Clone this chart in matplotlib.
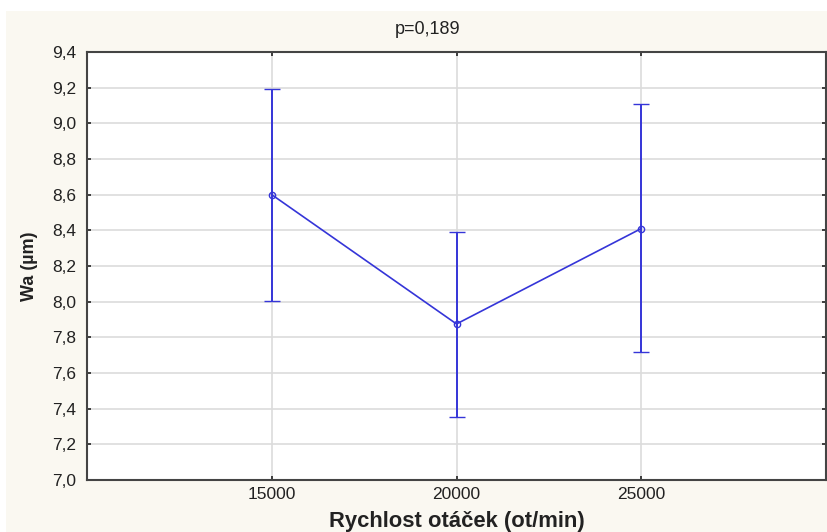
"""
Mean Wa with error bars vs spindle speed.
"""

import matplotlib.pyplot as plt
from matplotlib.patches import Rectangle
from matplotlib.ticker import FuncFormatter

FIG_PATH = "out.png"

speeds = [15000, 20000, 25000]
wa_mean = [8.60, 7.875, 8.41]
wa_low = [8.005, 7.355, 7.715]
wa_high = [9.19, 8.39, 9.11]

LINE_COLOR = "#3535d8"
BG_COLOR = "#faf8f1"


def main() -> None:
    plt.rcParams["font.family"] = ["Liberation Sans", "DejaVu Sans"]

    fig = plt.figure(figsize=(8.27, 5.32), dpi=100)
    fig.patch.set_facecolor("white")
    fig.patches.append(Rectangle((6 / 827, 0), 1, 1 - 11 / 532, transform=fig.transFigure,
                                 facecolor=BG_COLOR, edgecolor="none", zorder=-10))

    ax = fig.add_axes([87 / 827, 52 / 532, (826 - 87) / 827, (480 - 52) / 532])
    ax.set_facecolor("white")

    err_lo = [m - lo for m, lo in zip(wa_mean, wa_low)]
    err_hi = [hi - m for m, hi in zip(wa_mean, wa_high)]
    ax.errorbar(speeds, wa_mean, yerr=[err_lo, err_hi], color=LINE_COLOR, lw=1.2,
                elinewidth=1.4, capsize=6, capthick=1.4, marker="o", markersize=4.5,
                markerfacecolor="none", markeredgecolor=LINE_COLOR, markeredgewidth=1.0,
                zorder=3)

    ax.set_xlim(10000, 30000)
    ax.set_ylim(7.0, 9.4)
    ax.set_xticks(speeds)
    ax.set_yticks([7.0 + 0.2 * i for i in range(13)])
    ax.yaxis.set_major_formatter(FuncFormatter(lambda v, _: f"{v:.1f}".replace(".", ",")))
    ax.grid(True, color="#dcdcdc", lw=1.2, zorder=0)
    ax.set_axisbelow(True)
    ax.tick_params(direction="in", length=3, width=1.2, colors="#222222",
                   labelsize=12.5, top=True, right=True, labelcolor="#222222")
    ax.tick_params(axis="y", pad=8)
    ax.tick_params(axis="x", pad=5)
    for side in ax.spines.values():
        side.set_color("#444444")
        side.set_linewidth(1.5)

    fig.text(428 / 827, 1 - 30 / 532, "p=0,189", ha="center", va="center", fontsize=13,
             color="#222222")
    fig.text(457 / 827, 1 - 521 / 532, "Rychlost otáček (ot/min)", ha="center", va="center",
             fontsize=15.8, fontweight="bold", color="#222222")
    fig.text(30 / 827, 1 - 266 / 532, "Wa (µm)", ha="center", va="center", rotation=90,
             fontsize=13, fontweight="bold", color="#222222")

    fig.savefig(FIG_PATH, dpi=100, facecolor=fig.get_facecolor())
    plt.close(fig)


if __name__ == "__main__":
    main()
